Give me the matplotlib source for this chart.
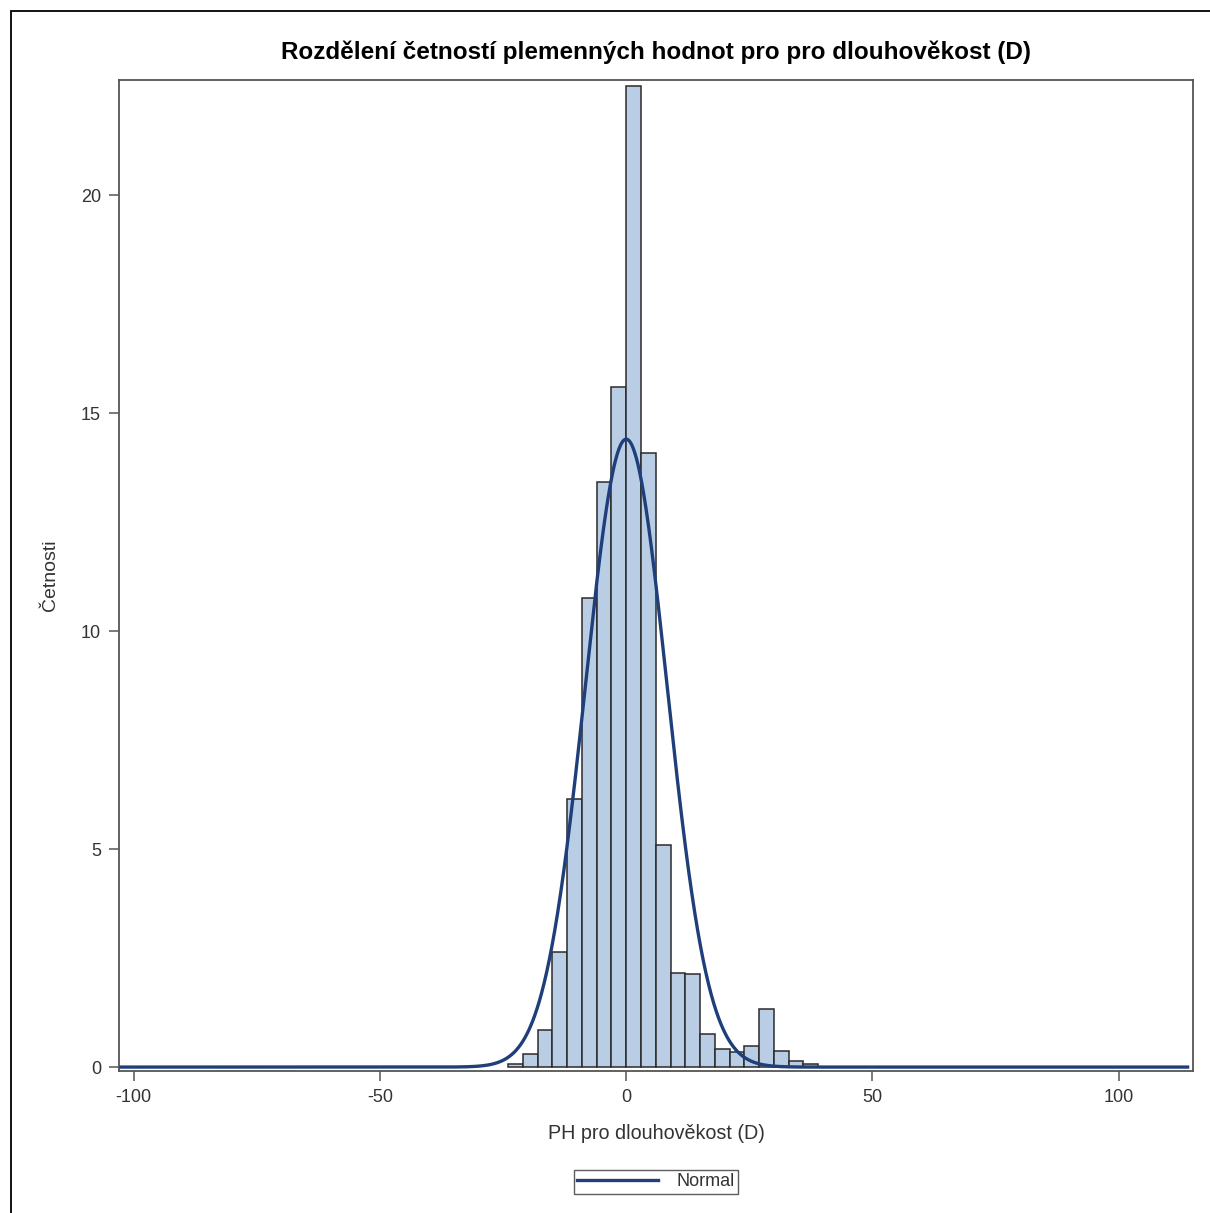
import numpy as np
import matplotlib
matplotlib.use("Agg")
import matplotlib.pyplot as plt
from matplotlib.patches import Rectangle

# Data (percent of animals per bin, bin width 3)
bin_left_edges = [-24, -21, -18, -15, -12, -9, -6, -3, 0, 3, 6, 9, 12, 15, 18, 21, 24, 27, 30, 33, 36]
percent = [0.08, 0.29, 0.84, 2.63, 6.14, 10.77, 13.42, 15.60, 22.50, 14.09, 5.09, 2.16, 2.13,
           0.77, 0.41, 0.34, 0.49, 1.33, 0.37, 0.14, 0.08]
bin_width = 3
normal_mu = 0.0
normal_sigma = 8.31
x_ticks = [-100, -50, 0, 50, 100]
y_ticks = [0, 5, 10, 15, 20]

title = "Rozdělení četností plemenných hodnot pro pro dlouhověkost (D)"
xlabel = "PH pro dlouhověkost (D)"
ylabel = "Četnosti"

plt.rcParams['font.family'] = ['Liberation Sans', 'DejaVu Sans']

fig = plt.figure(figsize=(12.10, 12.13), dpi=100)
W, H = 1210, 1213
ax = fig.add_axes([119 / W, 1 - 1071 / H, (1193 - 119) / W, (1071 - 80) / H])

bar_fill = '#B9CDE5'
edge = '#2b2b2b'
curve_col = '#1F3F7A'

ax.bar(bin_left_edges, percent, width=bin_width, align='edge', color=bar_fill,
       edgecolor=edge, linewidth=1.1, zorder=2)

xs = np.linspace(-102.6, 114.0, 2000)
ys = 100 * bin_width / (normal_sigma * np.sqrt(2 * np.pi)) * np.exp(-0.5 * ((xs - normal_mu) / normal_sigma) ** 2)
ax.plot(xs, ys, color=curve_col, linewidth=2.4, zorder=3, label='Normal')

ax.set_xlim(-103.0, 115.1)
ax.set_ylim(-0.09, 22.64)
ax.set_xticks(x_ticks)
ax.set_yticks(y_ticks)
ax.set_xticklabels([str(v) for v in x_ticks])
ax.set_yticklabels([str(v) for v in y_ticks])

for s in ax.spines.values():
    s.set_color('#555555')
    s.set_linewidth(1.3)
ax.tick_params(axis='both', direction='out', length=7, width=1.1, color='#555555',
               labelcolor='#333333', labelsize=13, pad=6)

ax.set_xlabel(xlabel, fontsize=14.2, color='#333333', labelpad=13)
ax.set_ylabel(ylabel, fontsize=14, color='#333333', labelpad=16)

fig.text(656 / W, 1 - 52 / H, title, ha='center', va='center', fontsize=17.5,
         fontweight='bold', color='black')

leg = ax.legend(loc='center', bbox_to_anchor=(656 / W, 1 - 1182 / H),
                bbox_transform=fig.transFigure, frameon=True, fancybox=False,
                fontsize=13, handlelength=4.5, borderpad=0.2, handletextpad=1.0)
leg.get_frame().set_edgecolor('#333333')
leg.get_frame().set_linewidth(1.0)
for t in leg.get_texts():
    t.set_color('#333333')

# outer border
fig.patches.append(Rectangle((11 / W, -0.01), 1.2, 1 - 11 / H + 0.01, transform=fig.transFigure,
                             fill=False, edgecolor='black', linewidth=1.3))

fig.savefig('out.png', dpi=100)
